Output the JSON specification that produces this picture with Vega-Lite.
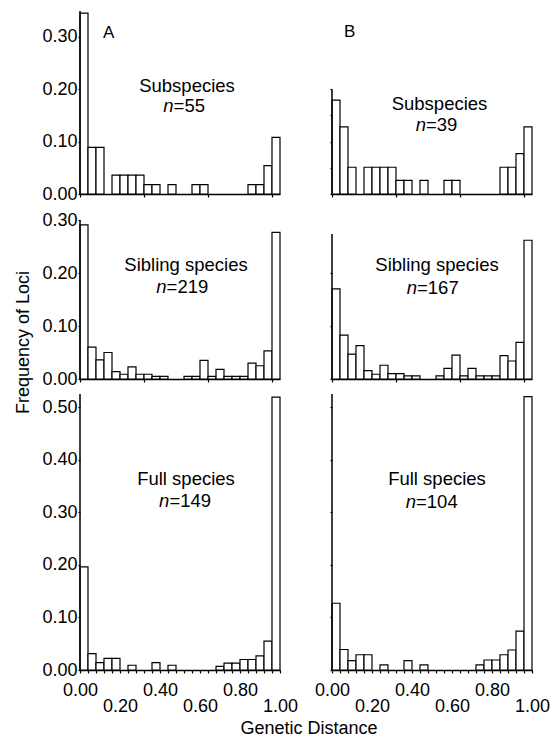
{
"$schema": "https://vega.github.io/schema/vega-lite/v6.json",
"padding": {"left": 14, "top": 10, "right": 5, "bottom": 0},
"background": "white",
"datasets": {"hist": [
{"p":"A1","lo":0,"hi":0.04,"f":0.345},{"p":"A1","lo":0.04,"hi":0.08,"f":0.089},{"p":"A1","lo":0.08,"hi":0.12,"f":0.089},{"p":"A1","lo":0.16,"hi":0.2,"f":0.036},{"p":"A1","lo":0.2,"hi":0.24,"f":0.036},{"p":"A1","lo":0.24,"hi":0.28,"f":0.036},{"p":"A1","lo":0.28,"hi":0.32,"f":0.036},{"p":"A1","lo":0.32,"hi":0.36,"f":0.018},{"p":"A1","lo":0.36,"hi":0.4,"f":0.018},{"p":"A1","lo":0.44,"hi":0.48,"f":0.018},{"p":"A1","lo":0.56,"hi":0.6,"f":0.018},{"p":"A1","lo":0.6,"hi":0.64,"f":0.018},{"p":"A1","lo":0.84,"hi":0.88,"f":0.018},{"p":"A1","lo":0.88,"hi":0.92,"f":0.018},{"p":"A1","lo":0.92,"hi":0.96,"f":0.054},{"p":"A1","lo":0.96,"hi":1,"f":0.108},
{"p":"B1","lo":0,"hi":0.04,"f":0.179},{"p":"B1","lo":0.04,"hi":0.08,"f":0.128},{"p":"B1","lo":0.08,"hi":0.12,"f":0.051},{"p":"B1","lo":0.16,"hi":0.2,"f":0.051},{"p":"B1","lo":0.2,"hi":0.24,"f":0.051},{"p":"B1","lo":0.24,"hi":0.28,"f":0.051},{"p":"B1","lo":0.28,"hi":0.32,"f":0.051},{"p":"B1","lo":0.32,"hi":0.36,"f":0.026},{"p":"B1","lo":0.36,"hi":0.4,"f":0.026},{"p":"B1","lo":0.44,"hi":0.48,"f":0.026},{"p":"B1","lo":0.56,"hi":0.6,"f":0.026},{"p":"B1","lo":0.6,"hi":0.64,"f":0.026},{"p":"B1","lo":0.84,"hi":0.88,"f":0.051},{"p":"B1","lo":0.88,"hi":0.92,"f":0.051},{"p":"B1","lo":0.92,"hi":0.96,"f":0.077},{"p":"B1","lo":0.96,"hi":1,"f":0.128},
{"p":"A2","lo":0,"hi":0.04,"f":0.291},{"p":"A2","lo":0.04,"hi":0.08,"f":0.06},{"p":"A2","lo":0.08,"hi":0.12,"f":0.036},{"p":"A2","lo":0.12,"hi":0.16,"f":0.05},{"p":"A2","lo":0.16,"hi":0.2,"f":0.014},{"p":"A2","lo":0.2,"hi":0.24,"f":0.009},{"p":"A2","lo":0.24,"hi":0.28,"f":0.023},{"p":"A2","lo":0.28,"hi":0.32,"f":0.009},{"p":"A2","lo":0.32,"hi":0.36,"f":0.009},{"p":"A2","lo":0.36,"hi":0.4,"f":0.005},{"p":"A2","lo":0.4,"hi":0.44,"f":0.005},{"p":"A2","lo":0.52,"hi":0.56,"f":0.005},{"p":"A2","lo":0.56,"hi":0.6,"f":0.005},{"p":"A2","lo":0.6,"hi":0.64,"f":0.035},{"p":"A2","lo":0.64,"hi":0.68,"f":0.005},{"p":"A2","lo":0.68,"hi":0.72,"f":0.018},{"p":"A2","lo":0.72,"hi":0.76,"f":0.005},{"p":"A2","lo":0.76,"hi":0.8,"f":0.005},{"p":"A2","lo":0.8,"hi":0.84,"f":0.005},{"p":"A2","lo":0.84,"hi":0.88,"f":0.03},{"p":"A2","lo":0.88,"hi":0.92,"f":0.025},{"p":"A2","lo":0.92,"hi":0.96,"f":0.053},{"p":"A2","lo":0.96,"hi":1,"f":0.277},
{"p":"B2","lo":0,"hi":0.04,"f":0.17},{"p":"B2","lo":0.04,"hi":0.08,"f":0.083},{"p":"B2","lo":0.08,"hi":0.12,"f":0.047},{"p":"B2","lo":0.12,"hi":0.16,"f":0.063},{"p":"B2","lo":0.16,"hi":0.2,"f":0.016},{"p":"B2","lo":0.2,"hi":0.24,"f":0.009},{"p":"B2","lo":0.24,"hi":0.28,"f":0.026},{"p":"B2","lo":0.28,"hi":0.32,"f":0.01},{"p":"B2","lo":0.32,"hi":0.36,"f":0.01},{"p":"B2","lo":0.36,"hi":0.4,"f":0.006},{"p":"B2","lo":0.4,"hi":0.44,"f":0.006},{"p":"B2","lo":0.52,"hi":0.56,"f":0.006},{"p":"B2","lo":0.56,"hi":0.6,"f":0.02},{"p":"B2","lo":0.6,"hi":0.64,"f":0.045},{"p":"B2","lo":0.64,"hi":0.68,"f":0.006},{"p":"B2","lo":0.68,"hi":0.72,"f":0.02},{"p":"B2","lo":0.72,"hi":0.76,"f":0.006},{"p":"B2","lo":0.76,"hi":0.8,"f":0.006},{"p":"B2","lo":0.8,"hi":0.84,"f":0.006},{"p":"B2","lo":0.84,"hi":0.88,"f":0.044},{"p":"B2","lo":0.88,"hi":0.92,"f":0.034},{"p":"B2","lo":0.92,"hi":0.96,"f":0.069},{"p":"B2","lo":0.96,"hi":1,"f":0.262},
{"p":"A3","lo":0,"hi":0.04,"f":0.196},{"p":"A3","lo":0.04,"hi":0.08,"f":0.031},{"p":"A3","lo":0.08,"hi":0.12,"f":0.014},{"p":"A3","lo":0.12,"hi":0.16,"f":0.022},{"p":"A3","lo":0.16,"hi":0.2,"f":0.022},{"p":"A3","lo":0.24,"hi":0.28,"f":0.009},{"p":"A3","lo":0.36,"hi":0.4,"f":0.014},{"p":"A3","lo":0.44,"hi":0.48,"f":0.009},{"p":"A3","lo":0.68,"hi":0.72,"f":0.007},{"p":"A3","lo":0.72,"hi":0.76,"f":0.013},{"p":"A3","lo":0.76,"hi":0.8,"f":0.013},{"p":"A3","lo":0.8,"hi":0.84,"f":0.02},{"p":"A3","lo":0.84,"hi":0.88,"f":0.02},{"p":"A3","lo":0.88,"hi":0.92,"f":0.027},{"p":"A3","lo":0.92,"hi":0.96,"f":0.055},{"p":"A3","lo":0.96,"hi":1,"f":0.519},
{"p":"B3","lo":0,"hi":0.04,"f":0.127},{"p":"B3","lo":0.04,"hi":0.08,"f":0.039},{"p":"B3","lo":0.08,"hi":0.12,"f":0.018},{"p":"B3","lo":0.12,"hi":0.16,"f":0.029},{"p":"B3","lo":0.16,"hi":0.2,"f":0.029},{"p":"B3","lo":0.24,"hi":0.28,"f":0.0096},{"p":"B3","lo":0.36,"hi":0.4,"f":0.018},{"p":"B3","lo":0.44,"hi":0.48,"f":0.0096},{"p":"B3","lo":0.72,"hi":0.76,"f":0.0096},{"p":"B3","lo":0.76,"hi":0.8,"f":0.019},{"p":"B3","lo":0.8,"hi":0.84,"f":0.019},{"p":"B3","lo":0.84,"hi":0.88,"f":0.029},{"p":"B3","lo":0.88,"hi":0.92,"f":0.038},{"p":"B3","lo":0.92,"hi":0.96,"f":0.074},{"p":"B3","lo":0.96,"hi":1,"f":0.52}
]},
"config": {
  "view": {"stroke": null},
  "font": "Liberation Sans",
  "axis": {"labelFont": "Liberation Sans", "titleFont": "Liberation Sans", "labelFontSize": 18, "titleFontSize": 18, "titleFontWeight": "normal", "labelColor": "black", "titleColor": "black", "tickColor": "black", "domainColor": "black", "domainWidth": 1.5, "tickWidth": 1.2, "labelFlush": false, "labelOverlap": false, "grid": false, "title": null},
  "axisX": {"tickSize": 3},
  "axisY": {"tickSize": 2, "labelPadding": 1, "domain": false},
  "text": {"font": "Liberation Sans", "fontSize": 18.5, "baseline": "alphabetic", "color": "black"},
  "bar": {"fill": "white", "stroke": "black", "strokeWidth": 1.2},
  "rule": {"color": "black", "strokeWidth": 1.5}
},
"columns": 2,
"spacing": {"row": 15, "column": 52},
"bounds": "flush",
"align": "each",
"concat": [
 {"width": 200, "height": 183, "layer": [
  {"data": {"name": "hist"}, "transform": [{"filter": "datum.p=='A1'"}], "mark": "bar", "encoding": {
    "x": {"field": "lo", "type": "quantitative", "scale": {"domain": [0, 1], "nice": false}, "axis": {"values": [0,0.04,0.08,0.12,0.16,0.2,0.24,0.28,0.32,0.36,0.4,0.44,0.48,0.52,0.56,0.6,0.64,0.68,0.72,0.76,0.8,0.84,0.88,0.92,0.96,1], "labels": false}},
    "x2": {"field": "hi"},
    "y": {"field": "f", "type": "quantitative", "scale": {"domain": [0, 0.349], "nice": false}, "axis": {"values": [0,0.05,0.1,0.15,0.2,0.25,0.3], "labelOverlap": false, "labelExpr": "round(datum.value*100)%10==0 ? format(datum.value,'.2f') : ''"}},
    "y2": {"datum": 0}}},
  {"data": {"values": [{}]}, "mark": "rule", "encoding": {"x": {"datum": 0}, "y": {"datum": 0}, "y2": {"datum": 0.349}}},
  {"data": {"values": [{}]}, "mark": {"type": "text", "align": "left", "fontSize": 17}, "encoding": {"x": {"datum": 0.115}, "y": {"datum": 0.297}, "text": {"value": "A"}}},
  {"data": {"values": [{}]}, "mark": {"type": "text", "align": "center"}, "encoding": {"x": {"datum": 0.535}, "y": {"datum": 0.195}, "text": {"value": "Subspecies"}}},
  {"data": {"values": [{}]}, "mark": {"type": "text", "align": "right", "fontStyle": "italic"}, "encoding": {"x": {"datum": 0.468}, "y": {"datum": 0.156}, "text": {"value": "n"}}},
  {"data": {"values": [{}]}, "mark": {"type": "text", "align": "left"}, "encoding": {"x": {"datum": 0.468}, "y": {"datum": 0.156}, "text": {"value": "=55"}}}
 ]},
 {"width": 200, "height": 183, "layer": [
  {"data": {"name": "hist"}, "transform": [{"filter": "datum.p=='B1'"}], "mark": "bar", "encoding": {
    "x": {"field": "lo", "type": "quantitative", "scale": {"domain": [0, 1], "nice": false}, "axis": {"values": [0,0.04,0.08,0.12,0.16,0.2,0.24,0.28,0.32,0.36,0.4,0.44,0.48,0.52,0.56,0.6,0.64,0.68,0.72,0.76,0.8,0.84,0.88,0.92,0.96,1], "labels": false}},
    "x2": {"field": "hi"},
    "y": {"field": "f", "type": "quantitative", "scale": {"domain": [0, 0.349], "nice": false}, "axis": {"values": [0,0.05,0.1,0.15,0.2], "labels": false}},
    "y2": {"datum": 0}}},
  {"data": {"values": [{}]}, "mark": "rule", "encoding": {"x": {"datum": 0}, "y": {"datum": 0}, "y2": {"datum": 0.199}}},
  {"data": {"values": [{}]}, "mark": {"type": "text", "align": "left", "fontSize": 17}, "encoding": {"x": {"datum": 0.06}, "y": {"datum": 0.299}, "text": {"value": "B"}}},
  {"data": {"values": [{}]}, "mark": {"type": "text", "align": "center"}, "encoding": {"x": {"datum": 0.5375}, "y": {"datum": 0.16}, "text": {"value": "Subspecies"}}},
  {"data": {"values": [{}]}, "mark": {"type": "text", "align": "right", "fontStyle": "italic"}, "encoding": {"x": {"datum": 0.47}, "y": {"datum": 0.121}, "text": {"value": "n"}}},
  {"data": {"values": [{}]}, "mark": {"type": "text", "align": "left"}, "encoding": {"x": {"datum": 0.47}, "y": {"datum": 0.121}, "text": {"value": "=39"}}}
 ]},
 {"width": 200, "height": 170, "layer": [
  {"data": {"name": "hist"}, "transform": [{"filter": "datum.p=='A2'"}], "mark": "bar", "encoding": {
    "x": {"field": "lo", "type": "quantitative", "scale": {"domain": [0, 1], "nice": false}, "axis": {"values": [0,0.04,0.08,0.12,0.16,0.2,0.24,0.28,0.32,0.36,0.4,0.44,0.48,0.52,0.56,0.6,0.64,0.68,0.72,0.76,0.8,0.84,0.88,0.92,0.96,1], "labels": false}},
    "x2": {"field": "hi"},
    "y": {"field": "f", "type": "quantitative", "scale": {"domain": [0, 0.321], "nice": false}, "axis": {"values": [0,0.05,0.1,0.15,0.2,0.25,0.3], "labelOverlap": false, "labelExpr": "round(datum.value*100)%10==0 ? format(datum.value,'.2f') : ''", "title": "Frequency of Loci", "titleX": -57, "titleY": 133, "titleAngle": 270, "titleAlign": "center", "titleBaseline": "middle"}},
    "y2": {"datum": 0}}},
  {"data": {"values": [{}]}, "mark": "rule", "encoding": {"x": {"datum": 0}, "y": {"datum": 0}, "y2": {"datum": 0.3}}},
  {"data": {"values": [{}]}, "mark": {"type": "text", "align": "center"}, "encoding": {"x": {"datum": 0.53}, "y": {"datum": 0.204}, "text": {"value": "Sibling species"}}},
  {"data": {"values": [{}]}, "mark": {"type": "text", "align": "right", "fontStyle": "italic"}, "encoding": {"x": {"datum": 0.433}, "y": {"datum": 0.1615}, "text": {"value": "n"}}},
  {"data": {"values": [{}]}, "mark": {"type": "text", "align": "left"}, "encoding": {"x": {"datum": 0.433}, "y": {"datum": 0.1615}, "text": {"value": "=219"}}}
 ]},
 {"width": 200, "height": 170, "layer": [
  {"data": {"name": "hist"}, "transform": [{"filter": "datum.p=='B2'"}], "mark": "bar", "encoding": {
    "x": {"field": "lo", "type": "quantitative", "scale": {"domain": [0, 1], "nice": false}, "axis": {"values": [0,0.04,0.08,0.12,0.16,0.2,0.24,0.28,0.32,0.36,0.4,0.44,0.48,0.52,0.56,0.6,0.64,0.68,0.72,0.76,0.8,0.84,0.88,0.92,0.96,1], "labels": false}},
    "x2": {"field": "hi"},
    "y": {"field": "f", "type": "quantitative", "scale": {"domain": [0, 0.321], "nice": false}, "axis": {"values": [0,0.05,0.1,0.15,0.2,0.25], "labels": false}},
    "y2": {"datum": 0}}},
  {"data": {"values": [{}]}, "mark": "rule", "encoding": {"x": {"datum": 0}, "y": {"datum": 0}, "y2": {"datum": 0.274}}},
  {"data": {"values": [{}]}, "mark": {"type": "text", "align": "center"}, "encoding": {"x": {"datum": 0.525}, "y": {"datum": 0.203}, "text": {"value": "Sibling species"}}},
  {"data": {"values": [{}]}, "mark": {"type": "text", "align": "right", "fontStyle": "italic"}, "encoding": {"x": {"datum": 0.425}, "y": {"datum": 0.16}, "text": {"value": "n"}}},
  {"data": {"values": [{}]}, "mark": {"type": "text", "align": "left"}, "encoding": {"x": {"datum": 0.425}, "y": {"datum": 0.16}, "text": {"value": "=167"}}}
 ]},
 {"width": 200, "height": 276, "resolve": {"scale": {"x": "shared"}, "axis": {"x": "independent"}}, "layer": [
  {"data": {"name": "hist"}, "transform": [{"filter": "datum.p=='A3'"}], "mark": "bar", "encoding": {
    "x": {"field": "lo", "type": "quantitative", "scale": {"domain": [0, 1], "nice": false}, "axis": {"orient": "bottom", "values": [0,0.04,0.08,0.12,0.16,0.2,0.24,0.28,0.32,0.36,0.4,0.44,0.48,0.52,0.56,0.6,0.64,0.68,0.72,0.76,0.8,0.84,0.88,0.92,0.96,1], "labels": false}},
    "x2": {"field": "hi"},
    "y": {"field": "f", "type": "quantitative", "scale": {"domain": [0, 0.525], "nice": false}, "axis": {"values": [0,0.05,0.1,0.15,0.2,0.25,0.3,0.35,0.4,0.45,0.5], "labelOverlap": false, "labelExpr": "round(datum.value*100)%10==0 ? format(datum.value,'.2f') : ''"}},
    "y2": {"datum": 0}}},
  {"data": {"values": [{}]}, "mark": "rule", "encoding": {"x": {"datum": 0, "axis": null}, "y": {"datum": 0}, "y2": {"datum": 0.525}}},
  {"data": {"values": [{}]}, "mark": {"type": "text", "align": "center"}, "encoding": {"x": {"datum": 0.53, "axis": {"orient": "bottom", "values": [0, 0.4, 0.8], "format": ".2f", "ticks": false, "domain": false, "labelPadding": 11}}, "y": {"datum": 0.352}, "text": {"value": "Full species"}}},
  {"data": {"values": [{}]}, "mark": {"type": "text", "align": "right", "fontStyle": "italic"}, "encoding": {"x": {"datum": 0.447, "axis": {"orient": "bottom", "values": [0.2, 0.6, 1], "format": ".2f", "ticks": false, "domain": false, "labelPadding": 27, "title": "Genetic Distance", "titleX": 228.5, "titleY": 63, "titleAlign": "center", "titleBaseline": "alphabetic"}}, "y": {"datum": 0.31}, "text": {"value": "n"}}},
  {"data": {"values": [{}]}, "mark": {"type": "text", "align": "left"}, "encoding": {"x": {"datum": 0.447, "axis": null}, "y": {"datum": 0.31}, "text": {"value": "=149"}}}
 ]},
 {"width": 200, "height": 276, "resolve": {"scale": {"x": "shared"}, "axis": {"x": "independent"}}, "layer": [
  {"data": {"name": "hist"}, "transform": [{"filter": "datum.p=='B3'"}], "mark": "bar", "encoding": {
    "x": {"field": "lo", "type": "quantitative", "scale": {"domain": [0, 1], "nice": false}, "axis": {"orient": "bottom", "values": [0,0.04,0.08,0.12,0.16,0.2,0.24,0.28,0.32,0.36,0.4,0.44,0.48,0.52,0.56,0.6,0.64,0.68,0.72,0.76,0.8,0.84,0.88,0.92,0.96,1], "labels": false}},
    "x2": {"field": "hi"},
    "y": {"field": "f", "type": "quantitative", "scale": {"domain": [0, 0.525], "nice": false}, "axis": {"values": [0,0.05,0.1,0.15,0.2,0.25,0.3,0.35,0.4,0.45,0.5], "labels": false}},
    "y2": {"datum": 0}}},
  {"data": {"values": [{}]}, "mark": "rule", "encoding": {"x": {"datum": 0, "axis": null}, "y": {"datum": 0}, "y2": {"datum": 0.525}}},
  {"data": {"values": [{}]}, "mark": {"type": "text", "align": "center"}, "encoding": {"x": {"datum": 0.525, "axis": {"orient": "bottom", "values": [0, 0.4, 0.8], "format": ".2f", "ticks": false, "domain": false, "labelPadding": 11}}, "y": {"datum": 0.352}, "text": {"value": "Full species"}}},
  {"data": {"values": [{}]}, "mark": {"type": "text", "align": "right", "fontStyle": "italic"}, "encoding": {"x": {"datum": 0.42, "axis": {"orient": "bottom", "values": [0.2, 0.6, 1], "format": ".2f", "ticks": false, "domain": false, "labelPadding": 27}}, "y": {"datum": 0.309}, "text": {"value": "n"}}},
  {"data": {"values": [{}]}, "mark": {"type": "text", "align": "left"}, "encoding": {"x": {"datum": 0.42, "axis": null}, "y": {"datum": 0.309}, "text": {"value": "=104"}}}
 ]}
]
}
